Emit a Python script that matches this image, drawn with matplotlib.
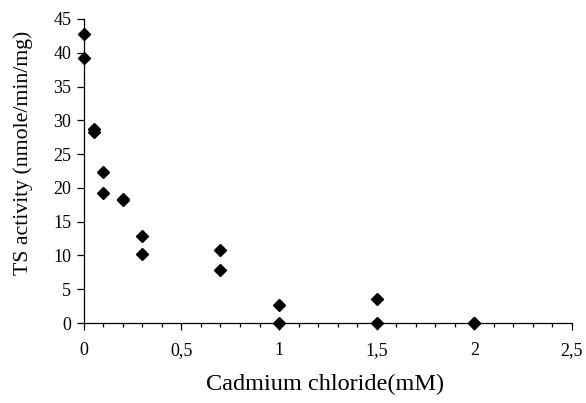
import numpy as np
import matplotlib.pyplot as plt
from matplotlib.ticker import MultipleLocator, FuncFormatter

plt.rcParams['font.family'] = ['Liberation Serif', 'DejaVu Serif']

# cadmium chloride concentration (mM) and TS activity readings
cadmium = [0, 0, 0.05, 0.05, 0.1, 0.1, 0.2, 0.2, 0.3, 0.3, 0.7, 0.7, 1, 1, 1.5, 1.5, 2, 2]
activity = [42.8, 39.2, 28.7, 28.3, 22.3, 19.3, 18.4, 18.2, 12.9, 10.2, 10.8, 7.8, 2.7, 0, 3.5, 0, 0, 0]

fig = plt.figure(figsize=(5.86, 4.03), dpi=100)
ax = fig.add_axes([0.143, 0.1985, 0.833, 0.7545])

ax.plot(cadmium, activity, linestyle='none', marker='D', markersize=6.5,
        color='black', clip_on=False, zorder=3)

ax.set_xlim(0, 2.5)
ax.set_ylim(0, 45)
ax.xaxis.set_major_locator(MultipleLocator(0.5))
ax.xaxis.set_minor_locator(MultipleLocator(0.1))
ax.yaxis.set_major_locator(MultipleLocator(5))
ax.xaxis.set_major_formatter(FuncFormatter(lambda v, p: ('%g' % v).replace('.', ',')))

for s in ['top', 'right']:
    ax.spines[s].set_visible(False)
for s in ['left', 'bottom']:
    ax.spines[s].set_linewidth(0.9)

ax.tick_params(axis='both', which='major', direction='out', length=5, width=0.9, labelsize=13)
ax.tick_params(axis='x', which='minor', direction='out', length=3, width=0.9)
ax.tick_params(axis='x', pad=9)
ax.tick_params(axis='y', pad=4)

ax.set_xlabel('Cadmium chloride(mM)', fontsize=17.5)
ax.xaxis.set_label_coords(0.495, -0.167)
ax.set_ylabel('TS activity (nmole/min/mg)', fontsize=15.7)
ax.yaxis.set_label_coords(-0.105, 0.56)

fig.savefig('out.png', dpi=100)
